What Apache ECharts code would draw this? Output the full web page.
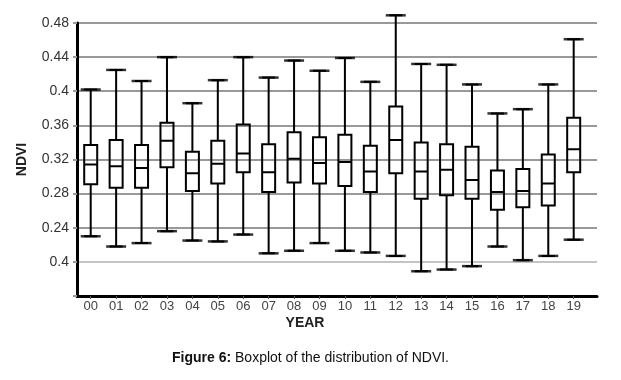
<!DOCTYPE html>
<html>
<head>
<meta charset="utf-8">
<script src="https://cdn.jsdelivr.net/npm/echarts@6/dist/echarts.min.js"></script>
<style>
  html, body { margin: 0; padding: 0; background: #fff; }
  #chart { width: 621px; height: 380px; }
</style>
</head>
<body>
<div id="chart"></div>
<script>
// 年份 (x 轴)
const years = ['00', '01', '02', '03', '04', '05', '06', '07', '08', '09',
  '10', '11', '12', '13', '14', '15', '16', '17', '18', '19']

// 箱线图数据
const lowWhisker = [0.230, 0.218, 0.222, 0.236, 0.225, 0.224, 0.232, 0.210, 0.213, 0.222,
  0.213, 0.211, 0.207, 0.189, 0.191, 0.195, 0.218, 0.202, 0.207, 0.226]
const q1 = [0.291, 0.287, 0.287, 0.311, 0.283, 0.292, 0.305, 0.282, 0.293, 0.292,
  0.289, 0.282, 0.304, 0.274, 0.278, 0.274, 0.261, 0.264, 0.266, 0.305]
const median = [0.314, 0.312, 0.310, 0.342, 0.304, 0.315, 0.327, 0.305, 0.321, 0.316,
  0.317, 0.306, 0.343, 0.306, 0.308, 0.296, 0.282, 0.283, 0.292, 0.332]
const q3 = [0.337, 0.343, 0.337, 0.363, 0.329, 0.342, 0.361, 0.338, 0.352, 0.346,
  0.349, 0.336, 0.382, 0.340, 0.338, 0.335, 0.307, 0.309, 0.326, 0.369]
const highWhisker = [0.402, 0.425, 0.412, 0.440, 0.386, 0.413, 0.440, 0.416, 0.436, 0.424,
  0.439, 0.411, 0.489, 0.432, 0.431, 0.408, 0.374, 0.379, 0.408, 0.461]

// y 轴刻度文字 (原图最下面那个写的是 0.4)
const yMin = 0.16
const yMax = 0.48
const yStep = 0.04
const yTickLabels = ['', '0.4', '0.24', '0.28', '0.32', '0.36', '0.4', '0.44', '0.48']

const boxData = years.map((y, i) => [lowWhisker[i], q1[i], median[i], q3[i], highWhisker[i]])
const capData = []
years.forEach((y, i) => {
  capData.push([y, lowWhisker[i]])
  capData.push([y, highWhisker[i]])
})

var myChart = echarts.init(document.getElementById('chart'))

let option = {
  animation: false,
  backgroundColor: '#fff',
  title: {
    text: '{b|Figure 6:} Boxplot of the distribution of NDVI.',
    left: 'center',
    top: 346,
    textStyle: {
      fontFamily: 'Liberation Sans',
      fontSize: 14,
      fontWeight: 'normal',
      color: '#111',
      rich: {
        b: { fontFamily: 'Liberation Sans', fontSize: 14, fontWeight: 'bold', color: '#111' }
      }
    }
  },
  graphic: [
    {
      type: 'text',
      x: 305,
      y: 323,
      style: {
        text: 'YEAR',
        font: 'bold 14px "Liberation Sans"',
        fill: '#222',
        textAlign: 'center',
        textVerticalAlign: 'middle'
      }
    }
  ],
  grid: [
    // 箱线图所在区域
    { left: 78, right: 34.6, top: 23, bottom: 84 },
    // 坐标轴线和网格线 (比箱线区域更宽)
    { left: 77, right: 24, top: 23, bottom: 84 }
  ],
  xAxis: [
    {
      type: 'category',
      gridIndex: 0,
      data: years,
      axisLine: { show: false },
      axisTick: {
        show: true,
        alignWithLabel: true,
        length: 3,
        lineStyle: { color: '#555', width: 1 }
      },
      axisLabel: {
        color: '#444',
        fontFamily: 'Liberation Sans',
        fontSize: 13,
        margin: 4
      },
      splitLine: { show: false }
    },
    {
      type: 'value',
      gridIndex: 1,
      min: 0,
      max: 1,
      axisLine: { show: true, lineStyle: { color: '#000', width: 3 } },
      axisTick: { show: false },
      axisLabel: { show: false },
      splitLine: { show: false }
    }
  ],
  yAxis: [
    {
      type: 'value',
      gridIndex: 0,
      min: yMin,
      max: yMax,
      show: false
    },
    {
      type: 'value',
      gridIndex: 1,
      min: yMin,
      max: yMax,
      interval: yStep,
      name: 'NDVI',
      nameLocation: 'middle',
      nameGap: 48,
      nameRotate: 90,
      nameTextStyle: {
        fontFamily: 'Liberation Sans',
        fontSize: 14,
        fontWeight: 'bold',
        color: '#222'
      },
      axisLine: { show: true, lineStyle: { color: '#000', width: 3 } },
      axisTick: { show: true, length: 4, lineStyle: { color: '#999', width: 2 } },
      axisLabel: {
        color: '#333',
        fontFamily: 'Liberation Sans',
        fontSize: 14,
        margin: 8,
        formatter: function (value) {
          return yTickLabels[Math.round((value - yMin) / yStep)] || ''
        }
      },
      splitLine: {
        show: true,
        lineStyle: {
          color: ['#999', '#c4c4c4', '#999', '#999', '#999', '#999', '#999', '#999', '#999'],
          width: 2
        }
      }
    }
  ],
  series: [
    {
      name: 'NDVI',
      type: 'boxplot',
      xAxisIndex: 0,
      yAxisIndex: 0,
      boxWidth: [13, 13],
      itemStyle: {
        color: 'rgba(0,0,0,0)',
        borderColor: '#000',
        borderWidth: 2
      },
      data: boxData
    },
    {
      // 须线两端的横杠比箱子宽一些
      name: 'caps',
      type: 'scatter',
      xAxisIndex: 0,
      yAxisIndex: 0,
      clip: false,
      symbol: 'rect',
      symbolSize: [20, 2.5],
      itemStyle: { color: '#000' },
      data: capData
    }
  ]
}

myChart.setOption(option)
</script>
</body>
</html>
